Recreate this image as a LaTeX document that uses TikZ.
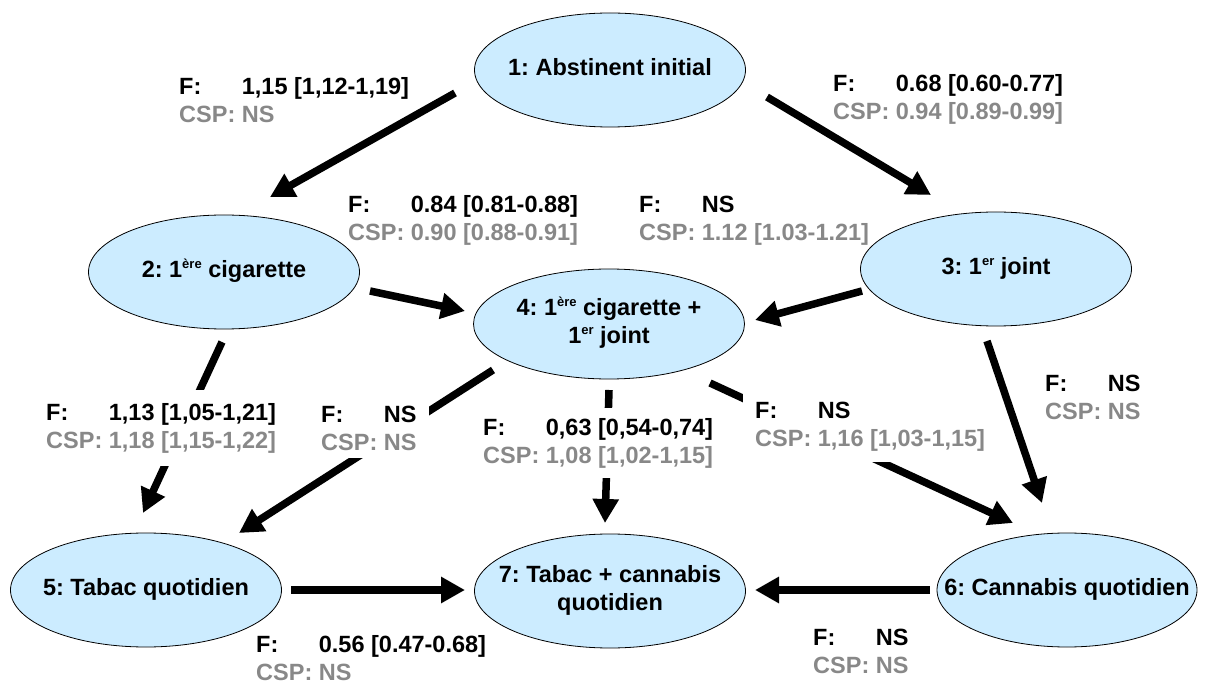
\documentclass[tikz,border=0pt]{standalone}
\usepackage{fontspec}
\setmainfont{Liberation Sans}
\usetikzlibrary{arrows.meta,shapes.geometric}
\definecolor{nodefill}{RGB}{204,236,255}
\definecolor{cspgray}{RGB}{136,136,136}
\pgfdeclarelayer{bg}
\pgfdeclarelayer{mid}
\pgfsetlayers{bg,mid,main}
\newcommand{\twolines}[2]{\rlap{F:}\phantom{CSP:} #1\\{\color{cspgray}CSP: #2}}
\newcommand{\ctext}[1]{\makebox[0pt]{\begin{tabular}{@{}c@{}}#1\end{tabular}}}
\newcommand{\myexp}[1]{\raisebox{9pt}{\fontsize{13}{13}\selectfont #1}}
\begin{document}
\begin{tikzpicture}[x=1pt,y=-1pt,
  state/.style={ellipse, draw=black, line width=0.8pt, fill=nodefill,
    minimum width=271pt, minimum height=114pt, inner sep=0pt,
    font=\fontsize{23.5}{28}\selectfont\bfseries\frenchspacing},
  lab/.style={inner xsep=4pt, inner ysep=10pt, anchor=west, align=left,
    font=\fontsize{23.5}{28}\selectfont\bfseries\frenchspacing},
  labw/.style={lab, fill=white},
  arr/.style={line width=7.5pt, -{Triangle[length=24pt,width=25pt]}}]
\useasboundingbox (0,0) rectangle (1208,684);

\node[state] (n1) at (610,70) {\ctext{1: Abstinent initial}};
\node[state] (n2) at (224,272) {\ctext{2: 1\myexp{ère} cigarette}};
\node[state] (n3) at (996,269) {\ctext{3: 1\myexp{er} joint}};
\node[state, minimum height=110pt] (n4) at (609,324) {\ctext{4: 1\myexp{ère} cigarette +\\1\myexp{er} joint}};
\node[state] (n5) at (146,590) {\ctext{5: Tabac quotidien}};
\node[state] (n7) at (610,591) {\ctext{7: Tabac + cannabis\\quotidien}};
\node[state, minimum width=260pt] (n6) at (1067,590) {\ctext{6: Cannabis quotidien}};

\begin{pgfonlayer}{mid}
\node[lab] (l12) at (175,100) {\twolines{1,15 [1,12-1,19]}{NS}};
\node[lab] (l13) at (829,99) {\twolines{0.68 [0.60-0.77]}{0.94 [0.89-0.99]}};
\node[lab] (l24) at (344,220) {\twolines{0.84 [0.81-0.88]}{0.90 [0.88-0.91]}};
\node[lab] (l34) at (635,221) {\twolines{NS}{1.12 [1.03-1.21]}};
\node[labw, inner ysep=13pt] (l25) at (42,428) {\twolines{1,13 [1,05-1,21]}{1,18 [1,15-1,22]}};
\node[labw, inner xsep=12pt, inner ysep=8pt] (l45) at (309,428) {\twolines{NS}{NS}};
\node[labw] (l47) at (479,443) {\twolines{0,63 [0,54-0,74]}{1,08 [1,02-1,15]}};
\node[labw, inner xsep=12pt] (l46) at (743,427) {\twolines{NS}{1,16 [1,03-1,15]}};
\node[lab] (l36) at (1041,397) {\twolines{NS}{NS}};
\node[lab] (l57) at (252,658) {\twolines{0.56 [0.47-0.68]}{NS}};
\node[lab] (l67) at (809,651) {\twolines{NS}{NS}};
\end{pgfonlayer}

\begin{pgfonlayer}{bg}
\draw[arr] ([shift={(-155,23)}]n1.center) -- ([shift={(46,-75)}]n2.center);
\draw[arr] ([shift={(157,27)}]n1.center) -- ([shift={(-65,-74)}]n3.center);
\draw[arr] ([shift={(146,19)}]n2.center) -- ([shift={(-144,-13)}]n4.center);
\draw[arr] ([shift={(-134,22)}]n3.center) -- ([shift={(146,-4)}]n4.center);
\draw[arr] ([shift={(-2,70)}]n2.center) -- ([shift={(-3,-77)}]n5.center);
\draw[arr] ([shift={(-116,46)}]n4.center) -- ([shift={(93,-57)}]n5.center);
\draw[arr] ([shift={(0,66)}]n4.center) -- ([shift={(-5,-68)}]n7.center);
\draw[arr] ([shift={(101,59)}]n4.center) -- ([shift={(-54,-67)}]n6.center);
\draw[arr] ([shift={(-9,72)}]n3.center) -- ([shift={(-25,-87)}]n6.center);
\draw[arr] ([shift={(145,0)}]n5.center) -- ([shift={(-145,-1)}]n7.center);
\draw[arr] ([shift={(-137,0)}]n6.center) -- ([shift={(145,-1)}]n7.center);
\end{pgfonlayer}
\end{tikzpicture}
\end{document}
